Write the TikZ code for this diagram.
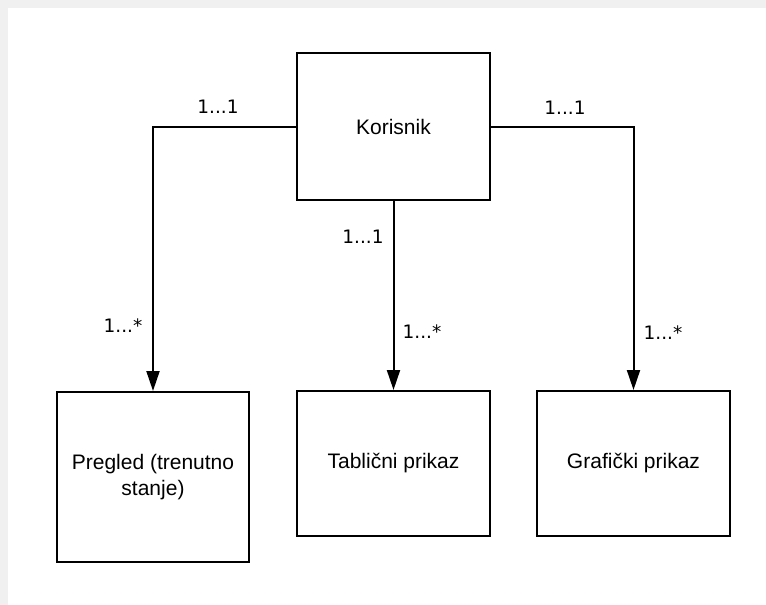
\documentclass[tikz,border=0pt]{standalone}
\usepackage{fontspec}
\setmainfont{Liberation Sans}
\newfontfamily\labelfont{DejaVu Sans}
\usetikzlibrary{arrows.meta}
\begin{document}
\begin{tikzpicture}[x=1pt, y=-1pt, every path/.style={line width=2pt},
    entity/.style={rectangle, draw, minimum width=193pt, inner sep=0pt, fill=white,
        font=\fontsize{21}{26}\selectfont, align=center},
    mult/.style={inner sep=0pt, font=\labelfont\fontsize{18.5}{20}\selectfont},
    link/.style={-{Triangle[length=20pt, width=13pt]}}]

    % background
    \fill[black!6, line width=0pt] (0,0) rectangle (766,605);
    \fill[white, line width=0pt] (8,8) rectangle (766,605);
    \useasboundingbox (0,0) rectangle (766,605);

    \node[entity, minimum height=147pt] (1) at (393.5,126.5) {Korisnik};

    \node[entity, minimum width=192pt, minimum height=170pt] (2) at (153,477) {Pregled (trenutno\\stanje)};

    \node[entity, minimum height=145pt] (3) at (393.5,463.5) {Tablični prikaz};

    \node[entity, minimum height=145pt] (4) at (633.5,463.5) {Grafički prikaz};

    \draw[link] (1.west) -| (2.north);
    \draw[link] (1.south) -- (3.north);
    \draw[link] (1.east) -| (4.north);

    % multiplicities
    \node[mult] (5) at (218,107) {1...1};
    \node[mult] (6) at (123,326) {1...*};

    \node[mult] (7) at (363,237) {1...1};
    \node[mult] (8) at (422,332) {1...*};

    \node[mult] (9) at (565,108) {1...1};
    \node[mult] (10) at (663,333) {1...*};

\end{tikzpicture}
\end{document}
